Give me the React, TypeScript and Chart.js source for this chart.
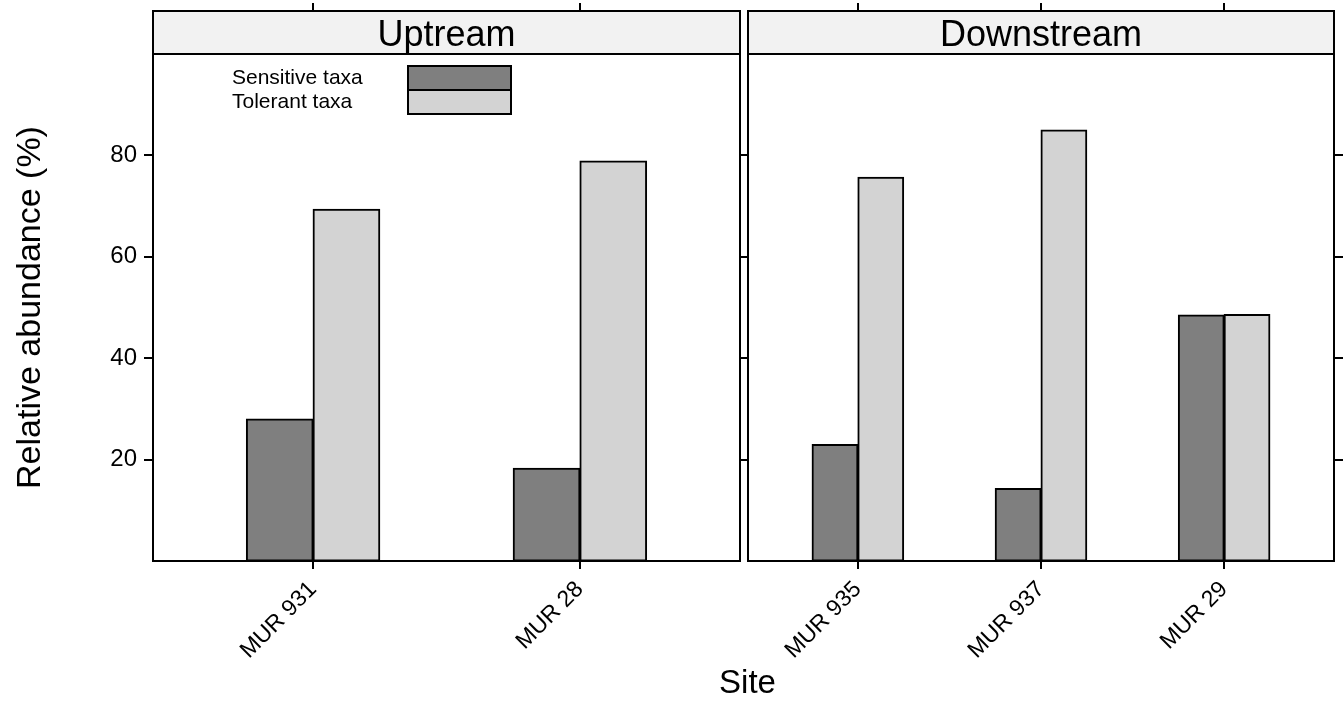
import React, { useEffect, useRef } from "react";
import { Chart, registerables } from "chart.js";

Chart.register(...registerables);

// ---------- data ----------
const panelTitles = ["Uptream", "Downstream"];
const seriesNames = ["Sensitive taxa", "Tolerant taxa"];
const upstreamSites = ["MUR 931", "MUR 28"];
const upstreamSensitive = [28.0, 18.3];
const upstreamTolerant = [69.4, 78.9];
const downstreamSites = ["MUR 935", "MUR 937", "MUR 29"];
const downstreamSensitive = [23.0, 14.3, 48.5];
const downstreamTolerant = [75.7, 85.0, 48.6];
const yTicks = [20, 40, 60, 80];
const yMin = 0;
const yMax = 100;
const xTitle = "Site";
const yTitle = "Relative abundance (%)";

// ---------- layout / style ----------
const FONT = "'Liberation Sans', Arial, Helvetica, sans-serif";
const W = 1343;
const H = 726;
const PANEL_TOP = 54;
const PANEL_BOTTOM = 561;
const STRIP_H = 43;
const GAP = 8;
const seriesColors = ["#7f7f7f", "#d3d3d3"];

type Panel = {
  title: string;
  sites: string[];
  values: number[][];
  left: number;
  right: number;
  isFirst: boolean;
};

const panels: Panel[] = [
  {
    title: panelTitles[0],
    sites: upstreamSites,
    values: [upstreamSensitive, upstreamTolerant],
    left: 153,
    right: 740,
    isFirst: true,
  },
  {
    title: panelTitles[1],
    sites: downstreamSites,
    values: [downstreamSensitive, downstreamTolerant],
    left: 748,
    right: 1334,
    isFirst: false,
  },
];

function line(ctx: CanvasRenderingContext2D, x1: number, y1: number, x2: number, y2: number) {
  ctx.beginPath();
  ctx.moveTo(x1, y1);
  ctx.lineTo(x2, y2);
  ctx.stroke();
}

function makeConfig(panel: Panel): any {
  const n = panel.sites.length;
  const decor = {
    id: "panelDecor",
    afterDraw(chart: any) {
      const { ctx, chartArea: a, scales } = chart;
      ctx.save();
      ctx.strokeStyle = "#000";
      ctx.lineWidth = 2;
      // strip
      ctx.fillStyle = "#f2f2f2";
      ctx.fillRect(a.left, a.top - STRIP_H, a.right - a.left, STRIP_H);
      ctx.strokeRect(a.left, a.top - STRIP_H, a.right - a.left, STRIP_H);
      // panel box
      ctx.strokeRect(a.left, a.top, a.right - a.left, a.bottom - a.top);
      // strip text
      ctx.fillStyle = "#000";
      ctx.font = `36px ${FONT}`;
      ctx.textAlign = "center";
      ctx.textBaseline = "middle";
      ctx.fillText(panel.title, (a.left + a.right) / 2, a.top - STRIP_H / 2 + 4);
      // top ticks (above strip)
      const xs = scales.x;
      xs.ticks.forEach((t: any) => {
        const px = Math.round(xs.getPixelForValue(t.value));
        line(ctx, px, a.top - STRIP_H, px, a.top - STRIP_H - 8);
      });
      // inner ticks in the gap between panels
      const ys = scales.y;
      ys.ticks.forEach((t: any) => {
        const py = Math.round(ys.getPixelForValue(t.value));
        if (panel.isFirst) line(ctx, a.right, py, a.right + GAP, py);
        else line(ctx, a.left - GAP, py, a.left, py);
      });
      if (panel.isFirst) {
        // legend
        ctx.font = `21px ${FONT}`;
        ctx.textAlign = "left";
        ctx.textBaseline = "middle";
        seriesNames.forEach((name, s) => {
          const top = a.top + 12 + s * 24;
          ctx.fillStyle = "#000";
          ctx.fillText(name, a.left + 79, top + 12);
          ctx.fillStyle = seriesColors[s];
          ctx.fillRect(a.left + 255, top, 103, 24);
          ctx.strokeRect(a.left + 255, top, 103, 24);
        });
        // x title, centred across both panels
        ctx.fillStyle = "#000";
        ctx.font = `33px ${FONT}`;
        ctx.textAlign = "center";
        ctx.fillText(xTitle, (panels[0].left + panels[panels.length - 1].right) / 2 + 4, 684);
      }
      ctx.restore();
    },
  };

  return {
    type: "bar",
    data: {
      datasets: seriesNames.map((name, s) => ({
        label: name,
        data: panel.values[s].map((v, i) => ({ x: i + 1, y: v })),
        backgroundColor: seriesColors[s],
        borderColor: "#000",
        borderWidth: 2,
        borderSkipped: false,
        inflateAmount: 0.5,
        categoryPercentage: 0.5,
        barPercentage: 1,
      })),
    },
    options: {
      animation: false,
      responsive: false,
      devicePixelRatio: 1,
      layout: {
        padding: panel.isFirst
          ? { left: 0, right: W - panel.right, top: PANEL_TOP, bottom: 0 }
          : { left: panel.left, right: 0, top: PANEL_TOP, bottom: 0 },
      },
      plugins: {
        legend: { display: false },
        tooltip: { enabled: false },
      },
      scales: {
        x: {
          type: "linear",
          offset: false,
          min: 0.4,
          max: n + 0.6,
          afterBuildTicks: (axis: any) => {
            axis.ticks = panel.sites.map((_, i) => ({ value: i + 1 }));
          },
          afterFit: (axis: any) => {
            axis.height = H - PANEL_BOTTOM;
          },
          ticks: {
            callback: (_v: any, i: number) => panel.sites[i],
            minRotation: 45,
            maxRotation: 45,
            autoSkip: false,
            color: "#000",
            font: { family: FONT, size: 23 },
            padding: 7,
          },
          grid: {
            offset: false,
            drawOnChartArea: false,
            drawTicks: true,
            tickLength: 8,
            color: "#000",
            lineWidth: 2,
          },
          border: { display: false },
        },
        y: {
          type: "linear",
          position: panel.isFirst ? "left" : "right",
          min: yMin,
          max: yMax,
          afterBuildTicks: (axis: any) => {
            axis.ticks = yTicks.map((v) => ({ value: v }));
          },
          afterFit: (axis: any) => {
            axis.width = panel.isFirst ? panel.left : W - panel.right;
          },
          ticks: {
            display: panel.isFirst,
            color: "#000",
            font: { family: FONT, size: 24 },
            padding: 7,
          },
          grid: {
            drawOnChartArea: false,
            drawTicks: true,
            tickLength: 9,
            color: "#000",
            lineWidth: 2,
          },
          border: { display: false },
          title: {
            display: panel.isFirst,
            text: yTitle,
            color: "#000",
            font: { family: FONT, size: 34 },
            padding: { top: 10, bottom: 0 },
          },
        },
      },
    },
    plugins: [decor],
  };
}

function PanelCanvas({ panel }: { panel: Panel }) {
  const ref = useRef<HTMLCanvasElement | null>(null);
  useEffect(() => {
    if (!ref.current) return;
    const chart = new Chart(ref.current, makeConfig(panel));
    return () => chart.destroy();
  }, [panel]);
  return (
    <canvas
      ref={ref}
      width={W}
      height={H}
      style={{ position: "absolute", left: 0, top: 0, width: W, height: H }}
    />
  );
}

export default function App() {
  return (
    <div
      style={{
        position: "fixed",
        left: 0,
        top: 0,
        width: W,
        height: H,
        background: "#fff",
        overflow: "hidden",
      }}
    >
      {panels.map((p) => (
        <PanelCanvas key={p.title} panel={p} />
      ))}
    </div>
  );
}
